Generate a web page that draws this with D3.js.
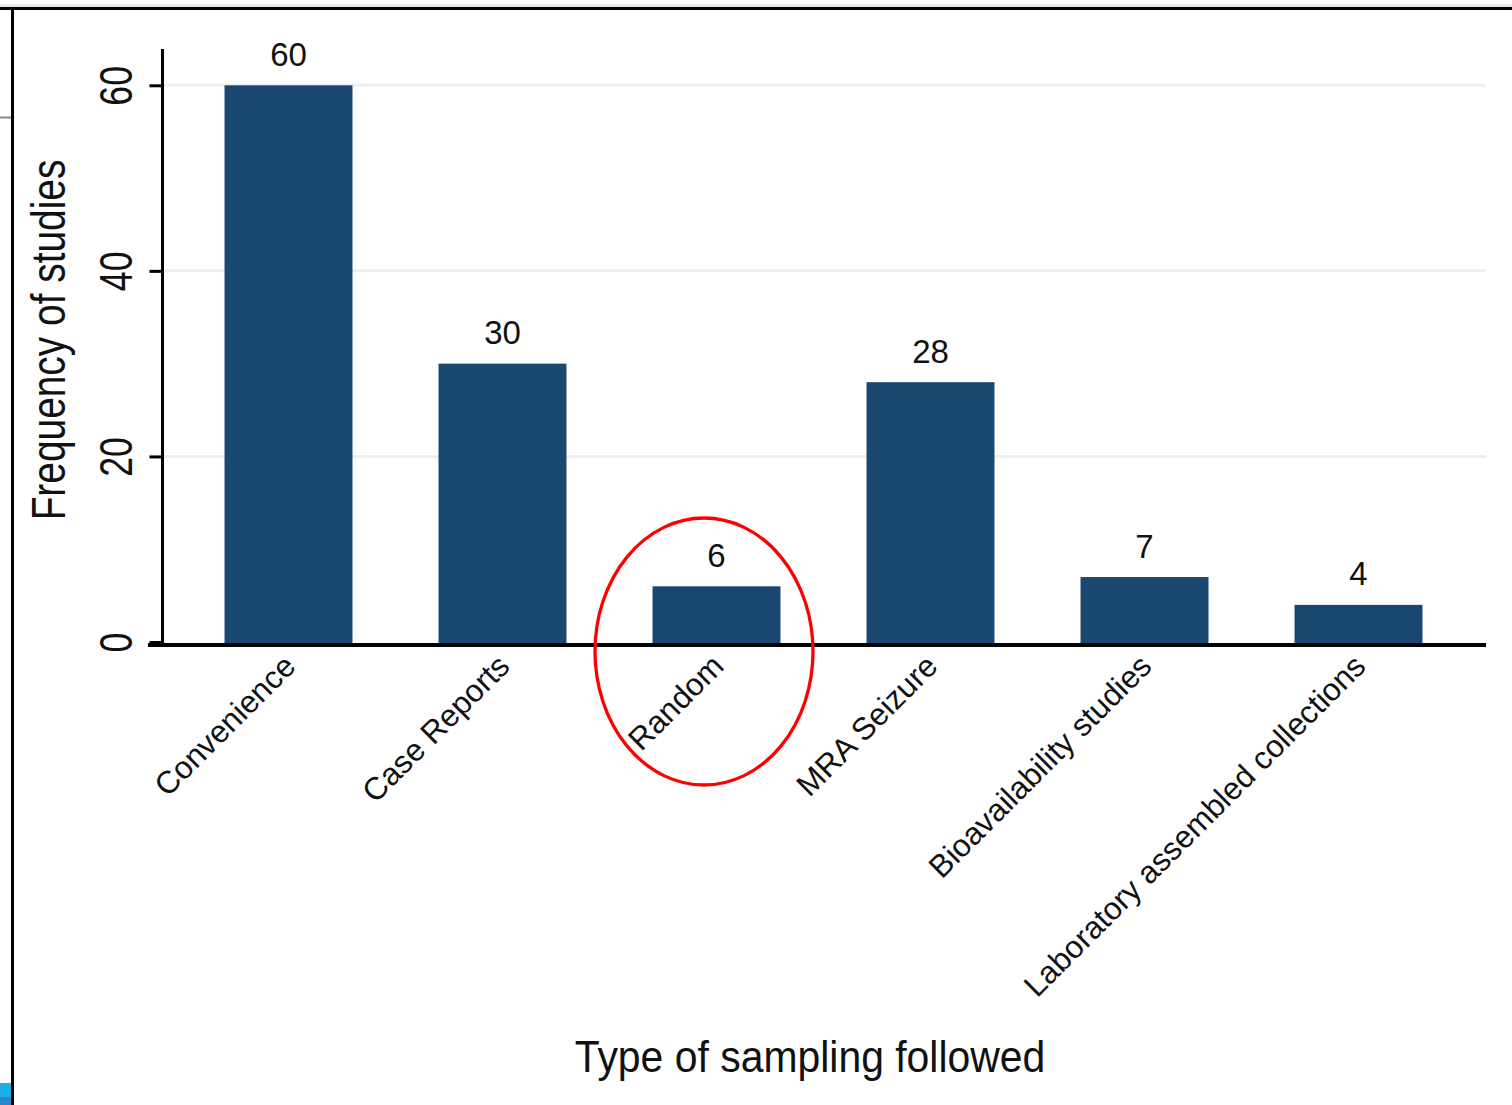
<!DOCTYPE html>
<html>
<head>
<meta charset="utf-8">
<script src="https://cdn.jsdelivr.net/npm/d3@7"></script>
<style>
  html, body { margin: 0; padding: 0; background: #ffffff; }
  svg { display: block; }
  text { font-family: Arial, "Liberation Sans", sans-serif; fill: #111; }
</style>
</head>
<body>
<svg id="chart" width="1512" height="1105"></svg>
<script>
// Sampling types and the number of studies that used each one
const categories = ["Convenience", "Case Reports", "Random", "MRA Seizure", "Bioavailability studies", "Laboratory assembled collections"];
const frequencies = [60, 30, 6, 28, 7, 4];
const yTicks = [0, 20, 40, 60];
const xTitle = "Type of sampling followed";
const yTitle = "Frequency of studies";
const highlighted = "Random";

const svg = d3.select("#chart");
const W = 1512, H = 1105;

svg.append("rect").attr("width", W).attr("height", H).attr("fill", "#fff");

// window frame pieces around the graph
svg.append("rect").attr("x", 0).attr("y", 4).attr("width", W).attr("height", 3).attr("fill", "#e6edf2");
svg.append("rect").attr("x", 0).attr("y", 7).attr("width", W).attr("height", 3).attr("fill", "#000");
svg.append("rect").attr("x", 11).attr("y", 7).attr("width", 3).attr("height", H - 7).attr("fill", "#000");
svg.append("rect").attr("x", 0).attr("y", 116.5).attr("width", 11).attr("height", 2).attr("fill", "#888");
svg.append("rect").attr("x", 0).attr("y", 1083).attr("width", 11).attr("height", 14).attr("fill", "#1aafe6");
svg.append("rect").attr("x", 0).attr("y", 1097).attr("width", 11).attr("height", 8).attr("fill", "#2a88c8");

// plot region
const plotLeft = 162.5, plotRight = 1486, plotTop = 49;

const x = d3.scaleBand()
  .domain(categories)
  .range([181.5, 1465.5])
  .paddingInner(0.402)
  .paddingOuter(0.201);

const y = d3.scaleLinear()
  .domain([0, 60])
  .range([642, 85.3]);

// horizontal grid lines
svg.append("g")
  .selectAll("line")
  .data(yTicks.filter(d => d > 0))
  .join("line")
  .attr("x1", plotLeft + 1.5)
  .attr("x2", plotRight)
  .attr("y1", d => y(d))
  .attr("y2", d => y(d))
  .attr("stroke", "#e9eff3")
  .attr("stroke-width", 3);

// bars
svg.append("g")
  .selectAll("rect")
  .data(categories)
  .join("rect")
  .attr("x", d => x(d))
  .attr("width", x.bandwidth())
  .attr("y", (d, i) => y(frequencies[i]))
  .attr("height", (d, i) => y(0) - y(frequencies[i]) + 2)
  .attr("fill", "#1a476f");

// value labels above the bars
svg.append("g")
  .selectAll("text")
  .data(categories)
  .join("text")
  .attr("x", d => x(d) + x.bandwidth() / 2)
  .attr("y", (d, i) => y(frequencies[i]) - 19.5)
  .attr("text-anchor", "middle")
  .attr("font-size", 33)
  .text((d, i) => frequencies[i]);

// y axis
const yAxis = d3.axisLeft(y).tickValues(yTicks).tickSize(13).tickFormat(d3.format("d"));
const gy = svg.append("g").attr("transform", `translate(${plotLeft},0)`).call(yAxis);
gy.select(".domain").remove();
gy.selectAll(".tick line").attr("stroke", "#000").attr("stroke-width", 3);
gy.selectAll(".tick text")
  .attr("x", 0).attr("y", 0).attr("dy", null)
  .attr("text-anchor", "middle")
  .attr("font-size", 47)
  .attr("fill", "#111")
  .attr("transform", "translate(-30.5,0) rotate(-90) scale(0.76,1)");
svg.append("line")
  .attr("x1", plotLeft).attr("x2", plotLeft)
  .attr("y1", plotTop).attr("y2", 647)
  .attr("stroke", "#000").attr("stroke-width", 3);

// x axis
const xAxis = d3.axisBottom(x).tickSize(0);
const gx = svg.append("g").attr("transform", "translate(0,645)").call(xAxis);
gx.select(".domain").remove();
gx.selectAll(".tick text")
  .attr("x", 0).attr("y", 0).attr("dy", null)
  .attr("text-anchor", "end")
  .attr("font-size", 31.5)
  .attr("fill", "#111")
  .attr("transform", "translate(9,23) rotate(-45)");
svg.append("line")
  .attr("x1", 148).attr("x2", plotRight)
  .attr("y1", 645).attr("y2", 645)
  .attr("stroke", "#000").attr("stroke-width", 4);

// axis titles
svg.append("text")
  .attr("transform", "translate(65,340) rotate(-90) scale(0.81,1)")
  .attr("text-anchor", "middle")
  .attr("font-size", 48)
  .text(yTitle);

svg.append("text")
  .attr("transform", "translate(810,1072) scale(0.93,1)")
  .attr("text-anchor", "middle")
  .attr("font-size", 44)
  .text(xTitle);

// red ring around the highlighted category
const cx = x(highlighted) + x.bandwidth() / 2 - 12.5;
svg.append("ellipse")
  .attr("cx", cx)
  .attr("cy", 651.5)
  .attr("rx", 109)
  .attr("ry", 133.5)
  .attr("fill", "none")
  .attr("stroke", "#ff0000")
  .attr("stroke-width", 3.3);
</script>
</body>
</html>
